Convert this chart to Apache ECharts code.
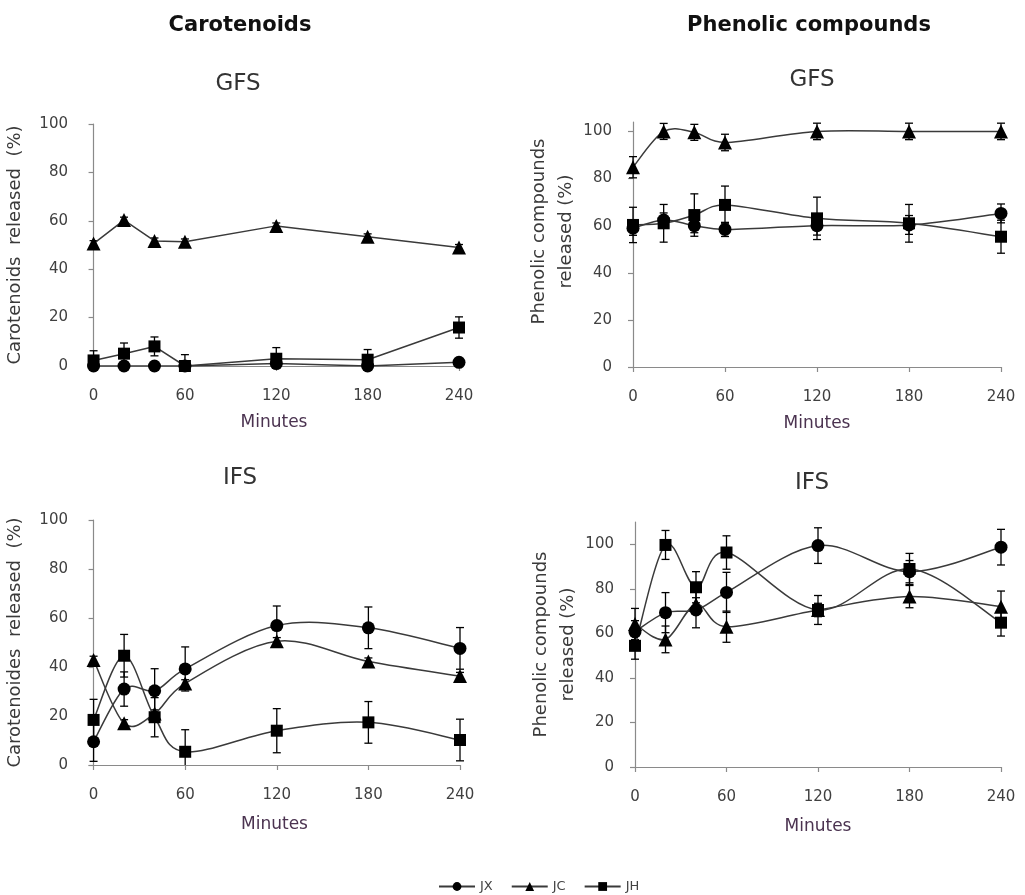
<!DOCTYPE html>
<html lang="en">
  <head>
    <meta charset="UTF-8" />
    <title>Carotenoids and phenolic compounds released</title>
    <script src="https://cdn.jsdelivr.net/npm/echarts@6/dist/echarts.min.js"></script>
    <style>
      body { margin: 0; background: #fff; }
    </style>
  </head>
  <body>
    <div id="main" style="width: 1025px;height:895px;"></div>
    <script type="text/javascript">
      // sampling times (min) and the tick labels
      var minutes = [0, 20, 40, 60, 120, 180, 240]
      var xTicks = [0, 60, 120, 180, 240]
      var yTicks = [0, 20, 40, 60, 80, 100]

      // Carotenoids - GFS
      var carGfsJX = [0, 0, 0, 0, 1, 0, 1.5]
      var carGfsJXsd = [0.5, 0.5, 0.5, 0.5, 0.5, 0.5, 0.5]
      var carGfsJC = [50.6, 60.3, 51.7, 51.3, 57.9, 53.4, 49]
      var carGfsJCsd = [1.2, 1.2, 1.2, 1.2, 1.2, 1.2, 1.2]
      var carGfsJH = [2.3, 5.1, 8.1, 0, 3, 2.6, 15.9]
      var carGfsJHsd = [4, 4.4, 3.9, 4.7, 4.6, 4.2, 4.4]

      // Phenolic compounds - GFS
      var phenGfsJX = [58.9, 62.4, 60, 58.4, 60, 60.3, 65.2]
      var phenGfsJXsd = [3, 3, 3, 3, 4, 4, 4]
      var phenGfsJC = [84.8, 100, 99.6, 95.3, 100, 100, 100]
      var phenGfsJCsd = [4.5, 3.4, 3.4, 3.5, 3.5, 3.5, 3.5]
      var phenGfsJH = [60.3, 61, 64.5, 68.8, 63.1, 61, 55.3]
      var phenGfsJHsd = [7.5, 8, 9, 8, 9, 8, 7]

      // Carotenoids - IFS
      var carIfsJX = [9.5, 31, 30.3, 39.2, 56.9, 56, 47.6]
      var carIfsJXsd = [8, 7, 9, 9, 8, 8.5, 8.5]
      var carIfsJC = [42.9, 17, 21, 33.3, 50.5, 42.2, 36.3]
      var carIfsJCsd = [1.5, 1.5, 1.5, 1.5, 1.5, 1.5, 1.5]
      var carIfsJH = [18.4, 44.6, 19.5, 5.4, 14, 17.4, 10.2]
      var carIfsJHsd = [8.4, 8.7, 8, 9, 9, 8.5, 8.5]

      // Phenolic compounds - IFS
      var phenIfsJX = [60.7, 69.3, 70.5, 78.4, 99.4, 87.7, 98.7]
      var phenIfsJXsd = [5, 9, 8, 9, 8, 5, 8]
      var phenIfsJC = [64.2, 57.3, 73, 63, 70.5, 76.5, 72]
      var phenIfsJCsd = [7, 6, 3, 7, 3, 5, 7]
      var phenIfsJH = [54.4, 99.7, 80.7, 96.3, 70.5, 88.9, 64.8]
      var phenIfsJHsd = [6, 6.5, 7, 7.5, 6.5, 7, 6]

      var font = 'DejaVu Sans'
      var lineColor = '#3a3a3a'
      var myChart = echarts.init(document.getElementById('main'))

      var panels = [
        { jx: carGfsJX, jxsd: carGfsJXsd, jc: carGfsJC, jcsd: carGfsJCsd, jh: carGfsJH, jhsd: carGfsJHsd, smooth: false },
        { jx: phenGfsJX, jxsd: phenGfsJXsd, jc: phenGfsJC, jcsd: phenGfsJCsd, jh: phenGfsJH, jhsd: phenGfsJHsd, smooth: true },
        { jx: carIfsJX, jxsd: carIfsJXsd, jc: carIfsJC, jcsd: carIfsJCsd, jh: carIfsJH, jhsd: carIfsJHsd, smooth: true },
        { jx: phenIfsJX, jxsd: phenIfsJXsd, jc: phenIfsJC, jcsd: phenIfsJCsd, jh: phenIfsJH, jhsd: phenIfsJHsd, smooth: true }
      ]

      var grids = [
        { left: 89, top: 124, width: 370, height: 242 },
        { left: 633, top: 122, width: 368, height: 245 },
        { left: 89, top: 520, width: 371, height: 245 },
        { left: 635, top: 522, width: 366, height: 245 }
      ]
      var xMins = [-3, 0, -3, 0]
      var yMaxs = [100, 104, 100, 110]
      var yNames = [
        'Carotenoids  released  (%)',
        'Phenolic compounds\nreleased (%)',
        'Carotenoides  released  (%)',
        'Phenolic compounds\nreleased (%)'
      ]
      var yNameGaps = [60, 47, 60, 47]
      var yNamePads = [0, [0, 0, 0, 26], 0, 0]
      var xNameGaps = [48, 48, 51, 51]

      var axisLineStyle = { color: '#8a8a8a', width: 1.2 }
      var tickLabel = { fontFamily: font, fontSize: 15, color: '#404040' }

      var xAxes = grids.map(function (g, i) {
        return {
          type: 'value',
          gridIndex: i,
          min: xMins[i],
          max: 240,
          name: 'Minutes',
          nameLocation: 'middle',
          nameGap: xNameGaps[i],
          nameTextStyle: { fontFamily: font, fontSize: 17, color: '#4b3350' },
          axisLine: { lineStyle: axisLineStyle },
          axisTick: { customValues: xTicks, length: 5, lineStyle: axisLineStyle },
          axisLabel: Object.assign({ customValues: xTicks, margin: 23 }, tickLabel),
          splitLine: { show: false }
        }
      })

      var yAxes = grids.map(function (g, i) {
        return {
          type: 'value',
          gridIndex: i,
          min: 0,
          max: yMaxs[i],
          name: yNames[i],
          nameLocation: 'middle',
          nameGap: yNameGaps[i],
          nameTextStyle: { fontFamily: font, fontSize: 18, color: '#3a3a3a', lineHeight: 27, padding: yNamePads[i] },
          axisLine: { show: true, lineStyle: axisLineStyle },
          axisTick: { show: true, customValues: yTicks, length: 5, lineStyle: axisLineStyle },
          axisLabel: Object.assign({ customValues: yTicks, margin: 21 }, tickLabel),
          splitLine: { show: false }
        }
      })

      // error bar: vertical line with caps, clipped at the x axis
      function renderErr(params, api) {
        var x = api.value(0)
        var lo = api.coord([x, api.value(1)])
        var hi = api.coord([x, api.value(2)])
        var bottom = params.coordSys.y + params.coordSys.height
        var st = { stroke: '#000', lineWidth: 1.3 }
        var kids = []
        kids.push({ type: 'line', shape: { x1: lo[0], y1: Math.min(lo[1], bottom), x2: hi[0], y2: hi[1] }, style: st })
        kids.push({ type: 'line', shape: { x1: hi[0] - 4, y1: hi[1], x2: hi[0] + 4, y2: hi[1] }, style: st })
        if (lo[1] <= bottom) {
          kids.push({ type: 'line', shape: { x1: lo[0] - 4, y1: lo[1], x2: lo[0] + 4, y2: lo[1] }, style: st })
        }
        return { type: 'group', children: kids }
      }

      // spreadsheet style smoothed segment (bezier, tension 1/6) from point i to i+1
      function curveRenderer(vals) {
        return function (params, api) {
          var i = params.dataIndex
          var n = minutes.length
          if (i >= n - 1) return null
          function P(k) {
            k = Math.max(0, Math.min(n - 1, k))
            return api.coord([minutes[k], vals[k]])
          }
          function dist(a, b) { return Math.sqrt((a[0] - b[0]) * (a[0] - b[0]) + (a[1] - b[1]) * (a[1] - b[1])) }
          var p0 = P(i - 1), p1 = P(i), p2 = P(i + 1), p3 = P(i + 2)
          var f = 1 / 6
          var d12 = dist(p1, p2)
          var d02 = dist(p0, p2)
          var d13 = dist(p1, p3)
          var t1 = d02 * f > d12 / 2 ? d12 / (2 * d02) : f
          var t2 = d13 * f > d12 / 2 ? d12 / (2 * d13) : f
          return {
            type: 'bezierCurve',
            shape: {
              x1: p1[0], y1: p1[1], x2: p2[0], y2: p2[1],
              cpx1: p1[0] + (p2[0] - p0[0]) * t1,
              cpy1: p1[1] + (p2[1] - p0[1]) * t1,
              cpx2: p2[0] - (p3[0] - p1[0]) * t2,
              cpy2: p2[1] - (p3[1] - p1[1]) * t2
            },
            style: { stroke: lineColor, lineWidth: 1.5, fill: 'none' }
          }
        }
      }

      var groups = [
        { name: 'JX', key: 'jx', symbol: 'circle', size: 13 },
        { name: 'JC', key: 'jc', symbol: 'triangle', size: 14 },
        { name: 'JH', key: 'jh', symbol: 'rect', size: 12 }
      ]

      var series = []
      // straight lines with markers (GFS carotenoids); also feed the legend
      groups.forEach(function (s) {
        var vals = panels[0][s.key]
        series.push({
          type: 'line',
          name: s.name,
          xAxisIndex: 0,
          yAxisIndex: 0,
          symbol: s.symbol,
          symbolSize: s.size,
          showAllSymbol: true,
          z: 3,
          itemStyle: { color: '#000' },
          lineStyle: { color: lineColor, width: 1.5 },
          data: minutes.map(function (m, k) { return [m, vals[k]] })
        })
      })
      panels.forEach(function (p, i) {
        groups.forEach(function (s) {
          var vals = p[s.key]
          var sd = p[s.key + 'sd']
          series.push({
            type: 'custom',
            name: s.name + ' sd',
            xAxisIndex: i,
            yAxisIndex: i,
            renderItem: renderErr,
            z: 2,
            silent: true,
            data: minutes.map(function (m, k) { return [m, vals[k] - sd[k], vals[k] + sd[k]] })
          })
          if (!p.smooth) return
          series.push({
            type: 'custom',
            name: s.name + ' curve',
            xAxisIndex: i,
            yAxisIndex: i,
            renderItem: curveRenderer(vals),
            z: 2,
            silent: true,
            data: minutes.map(function (m, k) { return [m, vals[k]] })
          })
          series.push({
            type: 'scatter',
            name: s.name + ' pts',
            xAxisIndex: i,
            yAxisIndex: i,
            symbol: s.symbol,
            symbolSize: s.size,
            z: 3,
            itemStyle: { color: '#000', opacity: 1 },
            data: minutes.map(function (m, k) { return [m, vals[k]] })
          })
        })
      })

      function label(text, x, y, size, bold) {
        return {
          type: 'text',
          x: x,
          y: y,
          style: {
            text: text,
            font: (bold ? 'bold ' : '') + size + 'px ' + font,
            fill: bold ? '#111' : '#333',
            align: 'center',
            verticalAlign: 'middle'
          }
        }
      }

      var option = {
        animation: false,
        backgroundColor: '#fff',
        grid: grids,
        xAxis: xAxes,
        yAxis: yAxes,
        graphic: [
          label('Carotenoids', 240, 26, 21, true),
          label('Phenolic compounds', 809, 26, 21, true),
          label('GFS', 238, 84, 23, false),
          label('GFS', 812, 80, 23, false),
          label('IFS', 240, 478, 23, false),
          label('IFS', 812, 483, 23, false)
        ],
        legend: {
          data: ['JX', 'JC', 'JH'],
          left: 433,
          top: 875,
          itemWidth: 36,
          itemHeight: 11,
          itemGap: 18,
          textStyle: { fontFamily: font, fontSize: 13, color: '#444' }
        },
        series: series
      }

      myChart.setOption(option)
    </script>
  </body>
</html>
